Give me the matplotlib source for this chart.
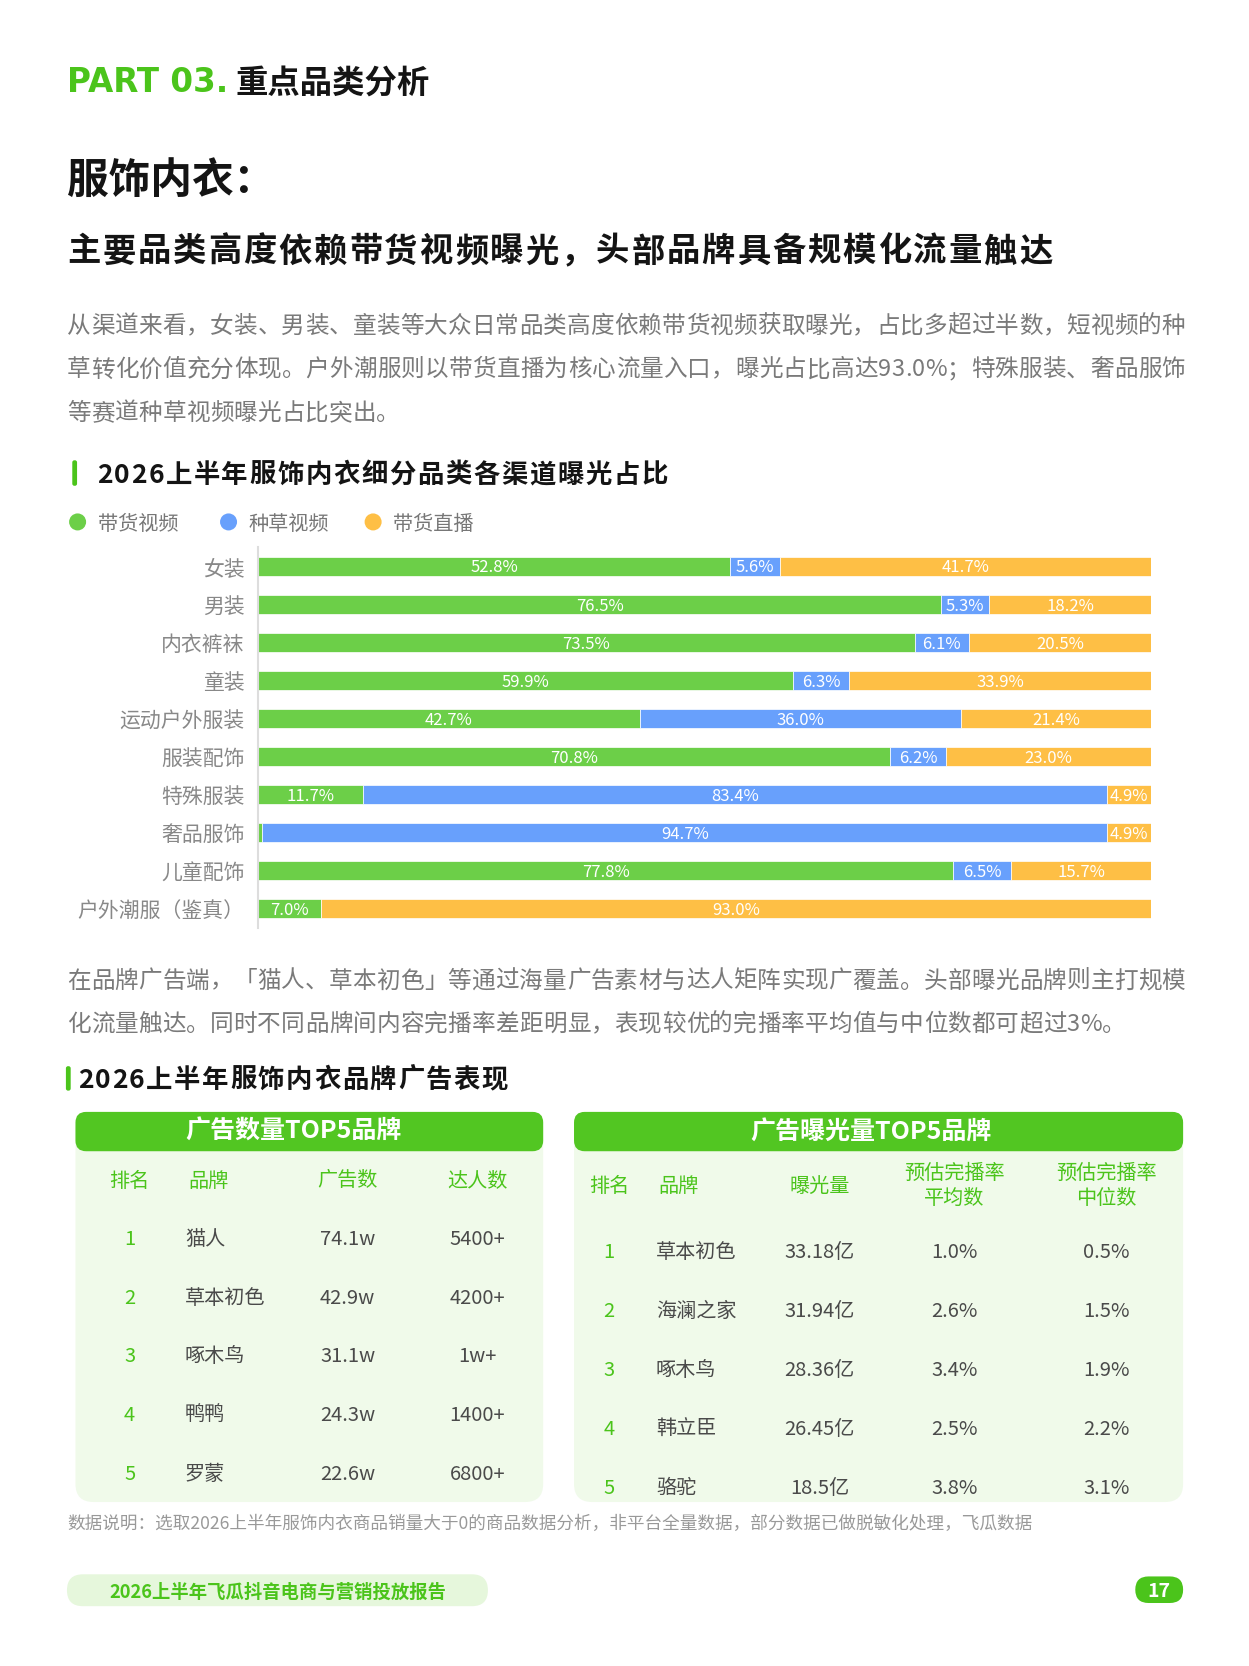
import numpy as np
import matplotlib
matplotlib.use('Agg')
import matplotlib.pyplot as plt
from matplotlib import font_manager
from matplotlib.font_manager import FontProperties
from matplotlib.ft2font import FT2Font
from matplotlib.patches import FancyBboxPatch, Circle

W, H = 1249, 1666
K = 1.063  # layout below is measured on a 1175 px wide copy of the page
DY = 2     # centre of CJK glyph ink sits a bit below va='center'
CJK = 'Noto Sans CJK SC'
plt.rcParams['font.family'] = [CJK, 'DejaVu Sans']

GREEN = '#4BC41B'
BLACK = '#141414'
GRAY = '#7a7a7a'

# channel share per sub-category (%)
categories = ['女装', '男装', '内衣裤袜', '童装', '运动户外服装', '服装配饰',
              '特殊服装', '奢品服饰', '儿童配饰', '户外潮服（鉴真）']
series_names = ['带货视频', '种草视频', '带货直播']
sales_video = [52.8, 76.5, 73.5, 59.9, 42.7, 70.8, 11.7, 0.4, 77.8, 7.0]
seed_video = [5.6, 5.3, 6.1, 6.3, 36.0, 6.2, 83.4, 94.7, 6.5, 0.0]
live_stream = [41.7, 18.2, 20.5, 33.9, 21.4, 23.0, 4.9, 4.9, 15.7, 93.0]
series_colors = ['#6ccf48', '#68a0fc', '#febf45']

# brand tables
ranks = [1, 2, 3, 4, 5]
ad_cols = ['排名', '品牌', '广告数', '达人数']
ad_brands = ['猫人', '草本初色', '啄木鸟', '鸭鸭', '罗蒙']
ad_counts = ['74.1w', '42.9w', '31.1w', '24.3w', '22.6w']
ad_kols = ['5400+', '4200+', '1w+', '1400+', '6800+']

exp_cols = ['排名', '品牌', '曝光量', '预估完播率\n平均数', '预估完播率\n中位数']
exp_brands = ['草本初色', '海澜之家', '啄木鸟', '韩立臣', '骆驼']
exp_values = ['33.18亿', '31.94亿', '28.36亿', '26.45亿', '18.5亿']
exp_avg = ['1.0%', '2.6%', '3.4%', '2.5%', '3.8%']
exp_med = ['0.5%', '1.5%', '1.9%', '2.2%', '3.1%']

para1 = ['从渠道来看，女装、男装、童装等大众日常品类高度依赖带货视频获取曝光，占比多超过半数，短视频的种',
         '草转化价值充分体现。户外潮服则以带货直播为核心流量入口，曝光占比高达93.0%；特殊服装、奢品服饰',
         '等赛道种草视频曝光占比突出。']
para2 = ['在品牌广告端，「猫人、草本初色」等通过海量广告素材与达人矩阵实现广覆盖。头部曝光品牌则主打规模',
         '化流量触达。同时不同品牌间内容完播率差距明显，表现较优的完播率平均值与中位数都可超过3%。']

fig = plt.figure(figsize=(W / 100, H / 100), dpi=100)
fig.patch.set_facecolor('white')
ax = fig.add_axes([0, 0, 1, 1])
ax.set_xlim(0, W / K)
ax.set_ylim(H / K, 0)
ax.axis('off')

_paths = {}


def advances(s, size, weight):
    if weight not in _paths:
        _paths[weight] = font_manager.findfont(FontProperties(family=CJK, weight=weight))
    f = FT2Font(_paths[weight])
    f.set_size(size, 100)
    return np.array([f.load_char(ord(c)).linearHoriAdvance / 65536 for c in s]) / K


def spaced(x0, y, s, size, color, weight='normal', x1=None, gap=0.0):
    # char by char so a line can be stretched like justified text
    adv = advances(s, size, weight)
    if x1 is not None:
        gap = (x1 - x0 - adv.sum()) / (len(s) - 1)
    xs = x0 + np.concatenate([[0], np.cumsum(adv[:-1])]) + gap * np.arange(len(s))
    for xc, c in zip(xs, s):
        ax.text(xc, y + DY, c, fontsize=size, color=color, fontweight=weight,
                family=CJK, ha='left', va='center')
    return gap


def rbox(x0, y0, x1, y1, r, color, z=1):
    ax.add_patch(FancyBboxPatch((x0, y0), x1 - x0, y1 - y0,
                                boxstyle=f'round,pad=0,rounding_size={r}',
                                fc=color, ec='none', zorder=z))


def t(x, y, s, size, color, weight='normal', ha='center', **kw):
    ax.text(x, y + DY, s, fontsize=size, color=color, fontweight=weight, ha=ha,
            va='center', **kw)


# header
t(63, 76, 'PART 03.', 23.5, GREEN, 'bold', ha='left', family='DejaVu Sans')
t(222, 76, '重点品类分析', 23.3, BLACK, 'bold', ha='left')
t(63, 168, '服饰内衣：', 30, BLACK, 'heavy', ha='left')
spaced(63, 235, '主要品类高度依赖带货视频曝光，头部品牌具备规模化流量触达', 24, BLACK, 'bold', x1=990)

g = spaced(63, 305, para1[0], 17, GRAY, x1=1115)
spaced(63, 346, para1[1], 17, GRAY, x1=1115)
spaced(63, 387, para1[2], 17, GRAY, gap=g)

# chart title + legend
rbox(68, 433, 72.5, 457, 2, GREEN)
spaced(91, 445, '2026上半年服饰内衣细分品类各渠道曝光占比', 19, BLACK, 'bold', x1=628)
for lx, name, col in zip([73, 215, 351], series_names, series_colors):
    ax.add_patch(Circle((lx, 491), 8, fc=col, ec='none'))
    t(lx + 19, 491, name, 14.5, '#777777', ha='left')

# stacked bars
bx = fig.add_axes([243 * K / W, 1 - 873 * K / H, 840 * K / W, 358 * K / H])
bx.set_facecolor('none')
ypos = np.arange(len(categories))
left = np.zeros(len(categories))
for vals, col in zip([sales_video, seed_video, live_stream], series_colors):
    vals = np.array(vals)
    bx.barh(ypos, vals, left=left, height=0.5, color=col, edgecolor='white', linewidth=0.5)
    for yi, v, l in zip(ypos, vals, left):
        if v >= 1:
            bx.text(l + v / 2, yi + 0.04, f'{v:.1f}%', ha='center', va='center',
                    color='white', fontsize=12)
    left += vals
bx.set_xlim(0, 100)
bx.set_ylim(len(categories) - 0.5, -0.5)
bx.set_yticks(ypos, labels=categories)
bx.set_xticks([])
bx.tick_params(axis='y', length=0, pad=10, labelsize=15, labelcolor='#888888')
for s in ['top', 'right', 'bottom']:
    bx.spines[s].set_visible(False)
bx.spines['left'].set_color('#dddddd')
bx.spines['left'].set_linewidth(1.5)

# second paragraph
g = spaced(63, 921, para2[0], 17, GRAY, x1=1115)
spaced(63, 962, para2[1], 17, GRAY, gap=g)

rbox(62, 1003, 66.5, 1026, 2, GREEN)
spaced(73, 1014, '2026上半年服饰内衣品牌广告表现', 19, BLACK, 'bold', x1=478)

TXT = '#4a4a4a'
BODY = '#f0faea'
HEAD = '#52c622'

# left table
rbox(71, 1046, 511, 1413, 17, BODY)
rbox(71, 1046, 511, 1083, 10, HEAD, z=2)
t(276, 1063, '广告数量TOP5品牌', 18, 'white', 'bold', zorder=3)
for cx, c, ha in zip([122, 177, 327, 449], ad_cols, ['center', 'left', 'center', 'center']):
    t(cx, 1109, c, 14.5, GREEN, ha=ha)
for i, (r, b, n, k) in enumerate(zip(ranks, ad_brands, ad_counts, ad_kols)):
    y = 1164 + i * 55.25
    t(122, y, str(r), 14.5, GREEN)
    t(174, y, b, 14.5, TXT, ha='left')
    t(327, y, n, 14.5, TXT)
    t(449, y, k, 14.5, TXT)

# right table
rbox(540, 1046, 1113, 1413, 17, BODY)
rbox(540, 1046, 1113, 1083, 10, HEAD, z=2)
t(819, 1063, '广告曝光量TOP5品牌', 18, 'white', 'bold', zorder=3)
for cx, c, ha in zip([573, 619, 771, 898, 1041], exp_cols,
                     ['center', 'left', 'center', 'center', 'center']):
    t(cx, 1114, c, 14.5, GREEN, ha=ha, linespacing=1.25)
for i, (r, b, v, a, m) in enumerate(zip(ranks, exp_brands, exp_values, exp_avg, exp_med)):
    y = 1176 + i * 55.5
    t(573, y, str(r), 14.5, GREEN)
    t(617, y, b, 14.5, TXT, ha='left')
    t(771, y, v, 14.5, TXT)
    t(898, y, a, 14.5, TXT)
    t(1041, y, m, 14.5, TXT)

t(63, 1432, '数据说明：选取2026上半年服饰内衣商品销量大于0的商品数据分析，非平台全量数据，部分数据已做脱敏化处理，飞瓜数据',
  12.7, '#999999', ha='left')

# footer
rbox(63, 1481, 459, 1511, 15, '#e6f7dc')
t(261, 1496, '2026上半年飞瓜抖音电商与营销投放报告', 13.2, GREEN, 'bold')
rbox(1068, 1483, 1113, 1508, 12.5, GREEN)
t(1090.5, 1495.5, '17', 14, 'white', 'heavy')

fig.savefig('out.png', dpi=100)
